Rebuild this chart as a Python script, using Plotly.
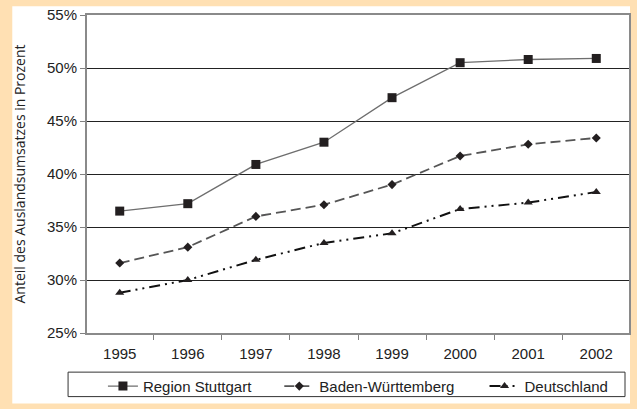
import plotly.graph_objects as go

# Anteil des Auslandsumsatzes (in %)
years = ["1995", "1996", "1997", "1998", "1999", "2000", "2001", "2002"]
stuttgart = [36.5, 37.2, 40.9, 43.0, 47.2, 50.5, 50.8, 50.9]
baden_wuerttemberg = [31.6, 33.1, 36.0, 37.1, 39.0, 41.7, 42.8, 43.4]
deutschland = [28.8, 30.0, 31.9, 33.5, 34.4, 36.7, 37.3, 38.3]
y_ticks = [25, 30, 35, 40, 45, 50, 55]
y_labels = [f"{v}%" for v in y_ticks]

W, H = 637, 409
ML, MR, MT, MB = 87, 6, 12, 72
PW, PH = W - ML - MR, H - MT - MB


def px_x(x):
    return (x - ML) / PW


def px_y(y):
    return (H - MB - y) / PH


MARK = "#231f20"
FONT = "Liberation Sans, Arial, sans-serif"

fig = go.Figure()

fig.add_trace(go.Scatter(
    x=years, y=stuttgart, name="Region Stuttgart", mode="lines+markers",
    line={"color": "#6e6e6e", "width": 1.3},
    marker={"symbol": "square", "size": 9, "color": MARK},
    legend="legend"
))
fig.add_trace(go.Scatter(
    x=years, y=baden_wuerttemberg, name="Baden-Württemberg", mode="lines+markers",
    line={"color": "#555555", "width": 1.8, "dash": "10px,5px"},
    marker={"symbol": "diamond", "size": 7, "color": MARK},
    legend="legend2"
))
fig.add_trace(go.Scatter(
    x=years, y=deutschland, name="Deutschland", mode="lines+markers",
    line={"color": "#111111", "width": 2, "dash": "11px,5px,2px,5px,2px,5px"},
    marker={"symbol": "triangle-up", "size": 8, "color": MARK},
    legend="legend3"
))

# white sheet on the peach page, and the legend frame
fig.add_shape(type="rect", xref="paper", yref="paper", layer="below",
              x0=px_x(12), x1=px_x(632), y0=px_y(409), y1=px_y(3),
              fillcolor="white", line={"width": 0})
fig.add_shape(type="rect", xref="paper", yref="paper",
              x0=px_x(68), x1=px_x(627), y0=px_y(402), y1=px_y(377),
              line={"color": "#333333", "width": 1})

fig.update_xaxes(
    type="category", tickson="boundaries", ticks="outside", ticklen=5,
    tickcolor="#808080", showline=True, linecolor="#8a8a8a", linewidth=1.5,
    mirror=True, showgrid=False, ticklabelstandoff=6,
    tickfont={"size": 15, "color": "#222222"}
)
fig.update_yaxes(
    range=[25, 55], tickvals=y_ticks, ticktext=y_labels, ticks="outside",
    ticklen=5, tickcolor="#808080", showline=True, linecolor="#8a8a8a",
    linewidth=2, mirror=True, showgrid=True, gridcolor="#222222", gridwidth=1,
    zeroline=False, tickfont={"size": 15, "color": "#222222"},
    title={"text": "Anteil des Auslandsumsatzes in Prozent",
           "font": {"family": "Open Sans, sans-serif", "size": 14, "color": "#222222"},
           "standoff": 18}
)

legend_style = {
    "orientation": "h", "xanchor": "left", "y": px_y(391.5), "yanchor": "middle",
    "bgcolor": "rgba(0,0,0,0)", "borderwidth": 0,
    "font": {"size": 15, "color": "#222222"}
}

fig.update_layout(
    width=W, height=H,
    margin={"l": ML, "r": MR, "t": MT, "b": MB},
    paper_bgcolor="#ffe0b3",
    plot_bgcolor="white",
    font={"family": FONT, "size": 15, "color": "#222222"},
    showlegend=True,
    legend={**legend_style, "x": px_x(103)},
    legend2={**legend_style, "x": px_x(280)},
    legend3={**legend_style, "x": px_x(486)},
)

fig.write_html("out.html", config={"displayModeBar": False},
               post_script="document.body.style.margin = '0';")
